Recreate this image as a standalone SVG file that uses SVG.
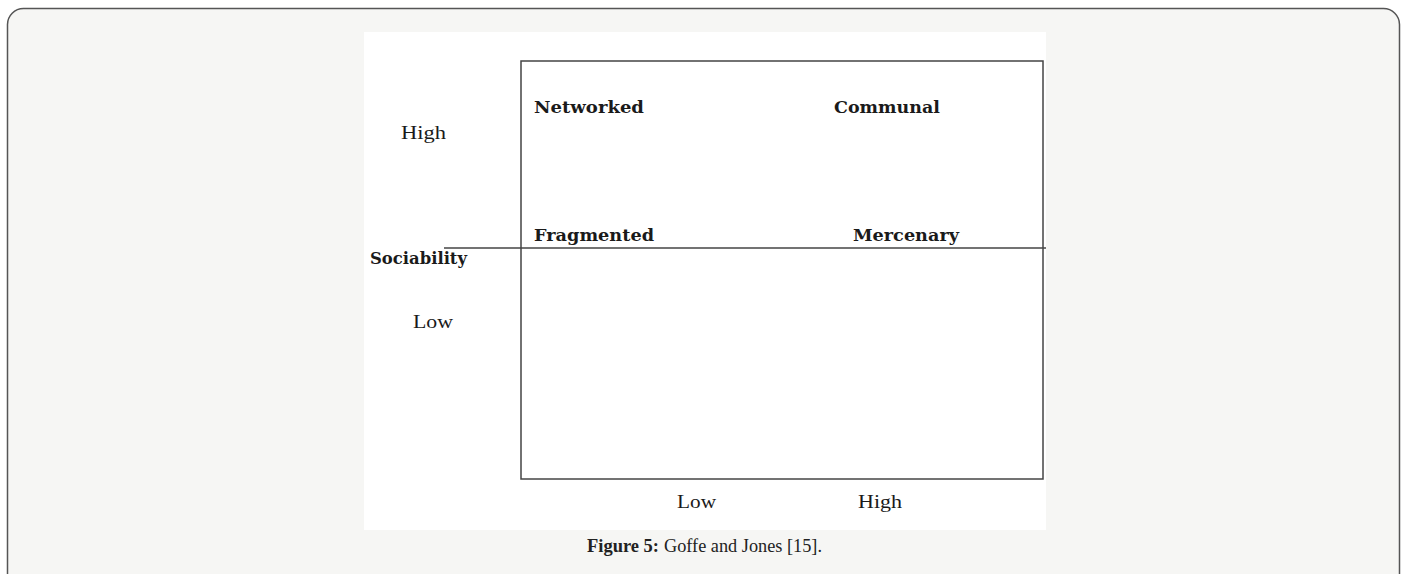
<svg xmlns="http://www.w3.org/2000/svg" width="1407" height="574" viewBox="0 0 1407 574">
  <style>
    .lbl { font-family: "DejaVu Serif", "Liberation Serif", serif; font-size: 16px; fill: #1a1a1a; }
    .b { font-weight: bold; }
    .axis { font-family: "Liberation Serif", "DejaVu Serif", serif; font-size: 18px; fill: #1a1a1a; }
    .cap { font-family: "Liberation Serif", "DejaVu Serif", serif; font-size: 18.5px; fill: #222; }
    .ln { stroke: #444; stroke-width: 1.5; fill: none; }
  </style>
  <!-- page frame -->
  <rect x="7.5" y="8.5" width="1392" height="600" rx="16" ry="16" fill="#f6f6f4" stroke="#555" stroke-width="1.5"/>
  <!-- figure panel -->
  <rect x="364" y="32" width="682" height="498" fill="#ffffff"/>
  <g id="connectors">
    <rect class="ln" x="521" y="61" width="522" height="418"/>
    <line class="ln" x1="444" y1="248" x2="1046" y2="248"/>
  </g>
  <g id="networked"><text class="lbl b" x="534" y="113" textLength="110" lengthAdjust="spacingAndGlyphs">Networked</text></g>
  <g id="communal"><text class="lbl b" x="834" y="113" textLength="106" lengthAdjust="spacingAndGlyphs">Communal</text></g>
  <g id="fragmented"><text class="lbl b" x="534" y="241" textLength="120" lengthAdjust="spacingAndGlyphs">Fragmented</text></g>
  <g id="mercenary"><text class="lbl b" x="853" y="241" textLength="106" lengthAdjust="spacingAndGlyphs">Mercenary</text></g>
  <g id="y-axis">
    <text class="axis" x="401" y="139" textLength="45" lengthAdjust="spacingAndGlyphs">High</text>
    <text class="lbl b" x="370" y="264" textLength="97" lengthAdjust="spacingAndGlyphs">Sociability</text>
    <text class="axis" x="413" y="328" textLength="40" lengthAdjust="spacingAndGlyphs">Low</text>
  </g>
  <g id="x-axis">
    <text class="axis" x="677" y="508" textLength="39" lengthAdjust="spacingAndGlyphs">Low</text>
    <text class="axis" x="858" y="508" textLength="44" lengthAdjust="spacingAndGlyphs">High</text>
  </g>
  <g id="caption">
    <text class="cap b" x="587" y="552" textLength="72" lengthAdjust="spacingAndGlyphs">Figure 5:</text>
    <text class="cap" x="664" y="552" textLength="158" lengthAdjust="spacingAndGlyphs">Goffe and Jones [15].</text>
  </g>
</svg>
